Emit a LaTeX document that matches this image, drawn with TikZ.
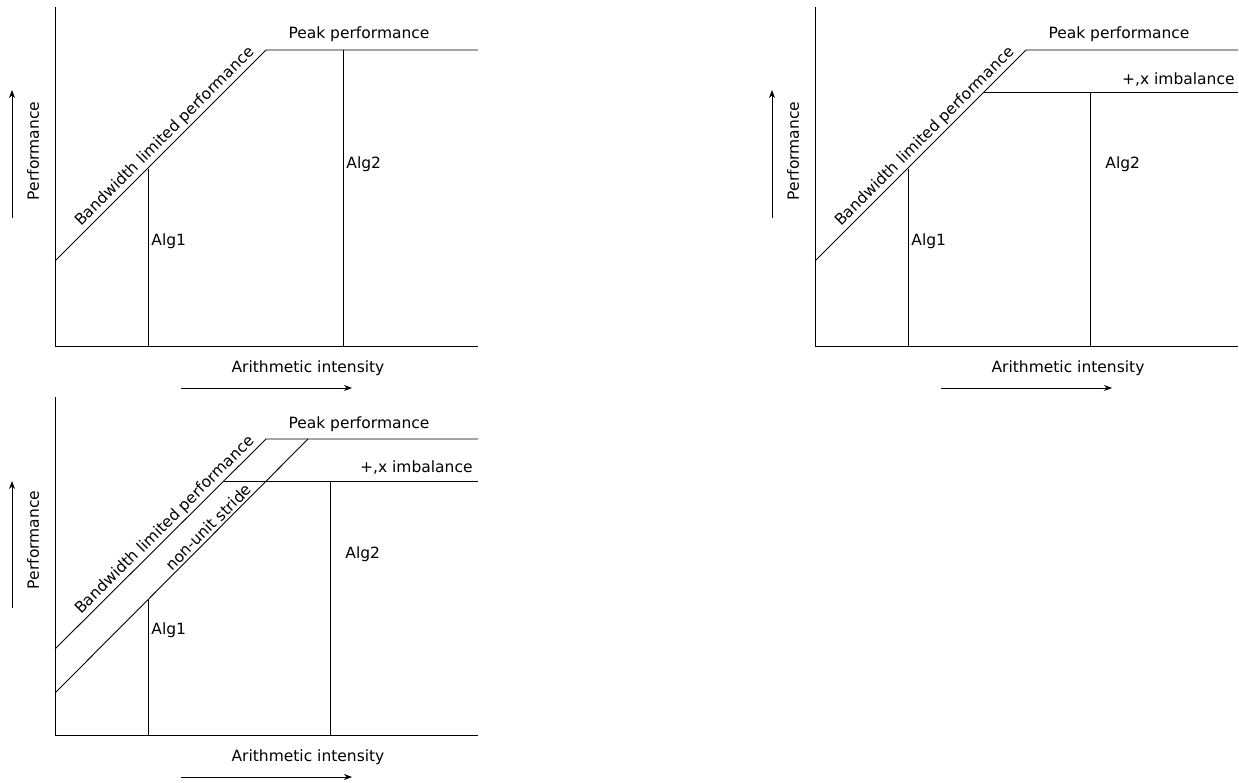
\documentclass[tikz,border=0pt]{standalone}
\usepackage{fontspec}
\setmainfont{DejaVu Sans}
\usetikzlibrary{arrows,arrows.meta}

\begin{document}
\begin{tikzpicture}[x=1pt,y=-1pt,>={Stealth[length=8pt,width=6pt]},line width=0.9pt,
    every node/.style={font=\fontsize{15.5}{18}\selectfont,inner sep=0pt}]
  \useasboundingbox (0,0) rectangle (1239,782);

  % bandwidth roof only
  \coordinate (ya) at (55,7);
  \coordinate (oa) at (55,346);
  \coordinate (xa) at (478,346);
  \coordinate (bwa) at (55,261);
  \coordinate (kneea) at (266,50);
  \coordinate (peaka) at (478,50);
  \coordinate (algia) at (148,169);
  \coordinate (algiia) at (343,50);
  \draw (ya) -- (oa) -- (xa);
  \draw (bwa) -- node[sloped,above=2pt,pos=0.555] (bwlaba) {Bandwidth limited performance} (kneea) -- (peaka);
  \draw (algia) -- (algia |- oa);
  \draw (algiia) -- (algiia |- oa);
  \node[anchor=base] (pka) at (359,38) {Peak performance};
  \node[anchor=base west] (alglaba) at (151,245) {Alg1};
  \node[anchor=base west] (algiilaba) at (346,168) {Alg2};
  \node[anchor=base] (aia) at (308,372) {Arithmetic intensity};
  \node[rotate=90] (pfa) at (33,151) {Performance};
  \coordinate (ua0) at (12,218);
  \coordinate (ua1) at (12,90);
  \coordinate (ra0) at (181,388);
  \coordinate (ra1) at (352,388);
  \draw[->] (ua0) -- (ua1);
  \draw[->] (ra0) -- (ra1);

  % with +,x imbalance
  \begin{scope}[shift={(760,0)}]
    \coordinate (yb) at (55,7);
    \coordinate (ob) at (55,346);
    \coordinate (xb) at (478,346);
    \coordinate (bwb) at (55,261);
    \coordinate (kneeb) at (266,50);
    \coordinate (peakb) at (478,50);
    \coordinate (imb0) at (224,92);
    \coordinate (imb1) at (478,92);
    \coordinate (algib) at (148,169);
    \coordinate (algiib) at (330,92);
    \draw (yb) -- (ob) -- (xb);
    \draw (bwb) -- node[sloped,above=2pt,pos=0.555] (bwlabb) {Bandwidth limited performance} (kneeb) -- (peakb);
    \draw (imb0) -- (imb1);
    \draw (algib) -- (algib |- ob);
    \draw (algiib) -- (algiib |- ob);
    \node[anchor=base] (pkb) at (359,38) {Peak performance};
    \node[anchor=base east] (imlabb) at (475,84) {+,x imbalance};
    \node[anchor=base west] (alglabb) at (151,245) {Alg1};
    \node[anchor=base west] (algiilabb) at (345,168) {Alg2};
    \node[anchor=base] (aib) at (308,372) {Arithmetic intensity};
    \node[rotate=90] (pfb) at (33,151) {Performance};
    \coordinate (ub0) at (12,218);
    \coordinate (ub1) at (12,90);
    \coordinate (rb0) at (181,388);
    \coordinate (rb1) at (352,388);
    \draw[->] (ub0) -- (ub1);
    \draw[->] (rb0) -- (rb1);
  \end{scope}

  % with +,x imbalance and non-unit stride
  \begin{scope}[shift={(0,390)}]
    \coordinate (yc) at (55,7);
    \coordinate (oc) at (55,345);
    \coordinate (xc) at (478,345);
    \coordinate (bwc) at (55,259);
    \coordinate (kneec) at (266,49);
    \coordinate (peakc) at (478,49);
    \coordinate (nuc0) at (55,303);
    \coordinate (nuc1) at (308,49);
    \coordinate (imc0) at (224,91);
    \coordinate (imc1) at (478,91);
    \coordinate (algic) at (148,210);
    \coordinate (algiic) at (330,91);
    \draw (yc) -- (oc) -- (xc);
    \draw (bwc) -- node[sloped,above=2pt,pos=0.555] (bwlabc) {Bandwidth limited performance} (kneec) -- (peakc);
    \draw (nuc0) -- node[sloped,above=2pt,pos=0.63] (nulabc) {non-unit stride} (nuc1);
    \draw (imc0) -- (imc1);
    \draw (algic) -- (algic |- oc);
    \draw (algiic) -- (algiic |- oc);
    \node[anchor=base] (pkc) at (359,38) {Peak performance};
    \node[anchor=base east] (imlabc) at (473,82) {+,x imbalance};
    \node[anchor=base west] (alglabc) at (151,244) {Alg1};
    \node[anchor=base west] (algiilabc) at (345,168) {Alg2};
    \node[anchor=base] (aic) at (308,371) {Arithmetic intensity};
    \node[rotate=90] (pfc) at (33,150) {Performance};
    \coordinate (uc0) at (12,218);
    \coordinate (uc1) at (12,91);
    \coordinate (rc0) at (181,387);
    \coordinate (rc1) at (352,387);
    \draw[->] (uc0) -- (uc1);
    \draw[->] (rc0) -- (rc1);
  \end{scope}
\end{tikzpicture}
\end{document}
